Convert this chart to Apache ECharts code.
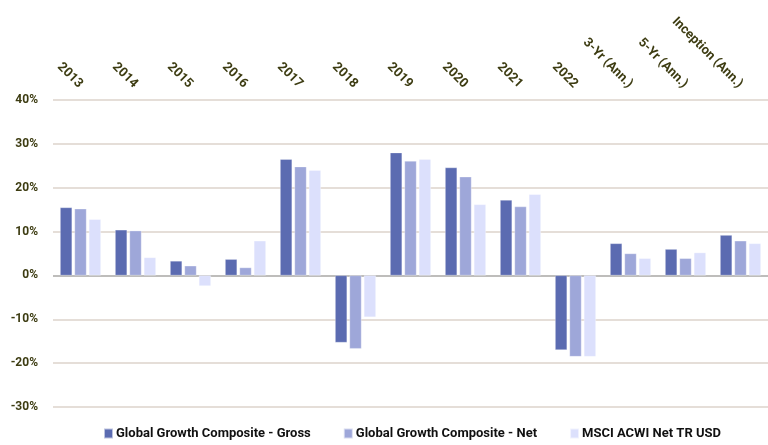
<!DOCTYPE html>
<html>
<head>
<meta charset="utf-8">
<script src="https://cdn.jsdelivr.net/npm/echarts@6/dist/echarts.min.js"></script>
<style>
  html, body { margin: 0; padding: 0; background: #fff; }
  #chart { width: 768px; height: 445px; }
</style>
</head>
<body>
<div id="chart"></div>
<script>
const categories = ['2013', '2014', '2015', '2016', '2017', '2018', '2019', '2020', '2021', '2022', '3-Yr (Ann.)', '5-Yr (Ann.)', 'Inception (Ann.)'];
const gross = [15.5, 10.4, 3.3, 3.7, 26.5, -15.3, 28.0, 24.6, 17.2, -17.0, 7.3, 6.0, 9.2];
const net = [15.2, 10.2, 2.2, 1.8, 24.8, -16.7, 26.1, 22.5, 15.7, -18.5, 5.0, 3.9, 7.9];
const msci = [12.8, 4.1, -2.4, 7.9, 24.0, -9.5, 26.5, 16.2, 18.5, -18.5, 3.9, 5.2, 7.3];

const labelColor = '#3d3c12';
const gridColor = '#dcd3cb';
const zeroColor = '#a9a7a4';

const chart = echarts.init(document.getElementById('chart'));

const barSeries = (name, data, color) => ({
  name: name,
  type: 'bar',
  data: data,
  barWidth: 12,
  barGap: '20%',
  itemStyle: { color: color, borderColor: 'rgba(255,255,255,0.6)', borderWidth: 0.5 }
});

const option = {
  animation: false,
  grid: { left: 53, right: 0, top: 100, bottom: 38 },
  legend: {
    bottom: 0,
    left: 98,
    itemWidth: 9,
    itemHeight: 10,
    itemGap: 32,
    icon: 'rect',
    textStyle: {
      color: '#111',
      fontWeight: 'bold',
      fontSize: 13,
      fontFamily: 'Roboto, sans-serif',
      padding: [0, 0, 0, -2]
    },
    data: ['Global Growth Composite - Gross', 'Global Growth Composite - Net', 'MSCI ACWI Net TR USD']
  },
  xAxis: {
    type: 'category',
    position: 'top',
    data: categories,
    axisLine: { show: false },
    axisTick: { show: false },
    axisLabel: {
      interval: 0,
      rotate: -45,
      margin: 14,
      color: labelColor,
      fontWeight: 'bold',
      fontSize: 13,
      fontFamily: 'Roboto, sans-serif'
    }
  },
  yAxis: {
    type: 'value',
    min: -30,
    max: 40,
    interval: 10,
    axisLine: { show: false },
    axisTick: { show: false },
    axisLabel: {
      formatter: '{value}%',
      color: labelColor,
      fontWeight: 'bold',
      fontSize: 12,
      margin: 15,
      fontFamily: 'Roboto, sans-serif'
    },
    splitLine: {
      lineStyle: {
        color: [gridColor, gridColor, gridColor, zeroColor, gridColor, gridColor, gridColor, gridColor],
        width: 1.5
      }
    }
  },
  series: [
    barSeries('Global Growth Composite - Gross', gross, '#5b6bb1'),
    barSeries('Global Growth Composite - Net', net, '#9ea7d9'),
    barSeries('MSCI ACWI Net TR USD', msci, '#dce0fc')
  ]
};

chart.setOption(option);
</script>
</body>
</html>
